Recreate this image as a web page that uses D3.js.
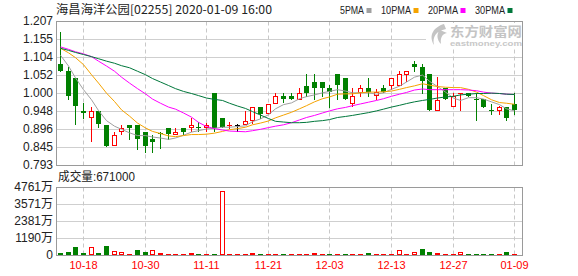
<!DOCTYPE html>
<html>
<head>
<meta charset="utf-8">
<script src="https://cdn.jsdelivr.net/npm/d3@7"></script>
<style>
    body { margin: 0; background: #fff; }
</style>
</head>
<body>
<div id="plotRegi"></div>
<script>
/* Data */
var title = "海昌海洋公园[02255] 2020-01-09 16:00"
var maNames = ["5PMA", "10PMA", "20PMA", "30PMA"]
var volLabel = "成交量:671000"

var dates = ["10-15", "10-16", "10-17", "10-18", "10-21", "10-22", "10-23", "10-24", "10-25", "10-28",
    "10-29", "10-30", "10-31", "11-01", "11-04", "11-05", "11-06", "11-07", "11-08", "11-11",
    "11-12", "11-13", "11-14", "11-15", "11-18", "11-19", "11-20", "11-21", "11-22", "11-25",
    "11-26", "11-27", "11-28", "11-29", "12-02", "12-03", "12-04", "12-05", "12-06", "12-09",
    "12-10", "12-11", "12-12", "12-13", "12-16", "12-17", "12-18", "12-19", "12-20", "12-23",
    "12-24", "12-27", "12-30", "12-31", "01-02", "01-03", "01-06", "01-07", "01-08", "01-09"]
var dateTicks = ["10-18", "10-30", "11-11", "11-21", "12-03", "12-13", "12-27", "01-09"]
var priceLabels = ["0.793", "0.845", "0.896", "0.948", "1.000", "1.052", "1.104", "1.155", "1.207"]
var volLabels = ["0", "1190万", "2381万", "3571万", "4761万"]

var open = [1.082, 1.062, 1.042, 0.949, 0.931, 0.949, 0.909, 0.850, 0.891, 0.908,
    0.909, 0.888, 0.868, 0.886, 0.900, 0.881, 0.900, 0.902, 0.902, 0.902,
    1.001, 0.929, 0.904, 0.908, 0.910, 0.922, 0.960, 0.943, 0.972, 0.990,
    0.990, 0.982, 1.021, 1.033, 1.033, 1.013, 1.054, 1.042, 0.972, 1.002,
    1.013, 0.993, 1.013, 1.024, 1.024, 1.056, 1.082, 1.074, 1.054, 0.950,
    1.013, 0.962, 0.996, 1.001, 0.983, 0.982, 0.950, 0.950, 0.961, 0.969]
var high = [1.175, 1.074, 1.042, 0.970, 0.960, 0.949, 0.909, 0.889, 0.908, 0.908,
    0.909, 0.888, 0.879, 0.888, 0.900, 0.900, 0.900, 0.927, 0.917, 0.915,
    1.001, 0.929, 0.917, 0.912, 0.948, 0.960, 0.960, 0.969, 1.001, 1.001,
    1.001, 1.013, 1.054, 1.054, 1.033, 1.023, 1.054, 1.042, 1.013, 1.023,
    1.042, 1.011, 1.023, 1.042, 1.064, 1.062, 1.093, 1.083, 1.054, 1.045,
    1.013, 1.001, 1.001, 1.001, 1.001, 0.982, 0.969, 0.962, 0.961, 1.001]
var low = [1.064, 0.982, 0.910, 0.927, 0.862, 0.902, 0.849, 0.850, 0.881, 0.869,
    0.840, 0.830, 0.831, 0.842, 0.868, 0.881, 0.881, 0.891, 0.891, 0.891,
    0.891, 0.902, 0.900, 0.891, 0.910, 0.913, 0.929, 0.943, 0.972, 0.975,
    0.982, 0.982, 0.992, 0.982, 0.992, 0.961, 0.982, 0.982, 0.963, 0.992,
    0.992, 0.982, 1.004, 1.011, 1.024, 1.035, 1.064, 1.001, 0.950, 0.950,
    0.982, 0.962, 0.950, 0.990, 0.921, 0.961, 0.941, 0.941, 0.921, 0.941]
var close = [1.064, 0.992, 0.962, 0.942, 0.949, 0.910, 0.849, 0.879, 0.899, 0.900,
    0.869, 0.849, 0.860, 0.881, 0.881, 0.888, 0.888, 0.908, 0.899, 0.907,
    0.900, 0.902, 0.907, 0.908, 0.919, 0.960, 0.941, 0.969, 0.990, 0.982,
    0.982, 1.000, 1.001, 1.013, 1.013, 1.004, 1.023, 0.982, 0.990, 1.013,
    1.002, 1.002, 1.004, 1.042, 1.054, 1.062, 1.074, 1.035, 0.950, 0.980,
    0.982, 0.990, 0.999, 0.990, 0.980, 0.961, 0.948, 0.960, 0.929, 0.950]
var volume = [1600000, 2300000, 5800000, 1600000, 5600000, 1600000, 6500000, 2800000, 2100000, 900000,
    3500000, 2100000, 3300000, 1400000, 700000, 650000, 600000, 1300000, 700000, 600000,
    750000, 44800000, 700000, 600000, 650000, 1400000, 700000, 600000, 650000, 700000,
    600000, 650000, 700000, 1350000, 650000, 700000, 750000, 700000, 650000, 600000,
    1600000, 650000, 600000, 700000, 3300000, 700000, 2100000, 4200000, 2300000, 1400000,
    650000, 600000, 2100000, 700000, 650000, 700000, 750000, 600000, 2300000, 671000]

var ma5 = [1.110, 1.079, 1.045, 1.011, 0.982, 0.951, 0.922, 0.906, 0.897, 0.887,
    0.879, 0.879, 0.875, 0.872, 0.868, 0.872, 0.880, 0.889, 0.893, 0.898,
    0.900, 0.903, 0.903, 0.905, 0.907, 0.919, 0.927, 0.939, 0.956, 0.968,
    0.973, 0.985, 0.991, 0.996, 1.002, 1.006, 1.011, 1.007, 1.002, 1.002,
    1.002, 0.998, 1.002, 1.012, 1.021, 1.033, 1.047, 1.053, 1.035, 1.020,
    1.004, 0.987, 0.980, 0.988, 0.988, 0.984, 0.976, 0.968, 0.956, 0.950]
var ma10 = [1.130, 1.117, 1.103, 1.083, 1.054, 1.030, 1.001, 0.977, 0.953, 0.935,
    0.915, 0.901, 0.891, 0.885, 0.878, 0.876, 0.879, 0.882, 0.882, 0.883,
    0.886, 0.891, 0.896, 0.899, 0.903, 0.910, 0.915, 0.921, 0.930, 0.938,
    0.946, 0.956, 0.965, 0.976, 0.985, 0.990, 0.998, 0.999, 0.999, 1.002,
    1.004, 1.004, 1.005, 1.007, 1.012, 1.017, 1.022, 1.028, 1.024, 1.020,
    1.018, 1.017, 1.017, 1.012, 1.004, 0.994, 0.982, 0.974, 0.972, 0.969]
var ma20 = [1.134, 1.127, 1.120, 1.114, 1.106, 1.093, 1.079, 1.064, 1.047, 1.030,
    1.014, 0.999, 0.984, 0.972, 0.961, 0.955, 0.944, 0.932, 0.917, 0.905,
    0.899, 0.895, 0.892, 0.891, 0.890, 0.893, 0.897, 0.902, 0.906, 0.910,
    0.916, 0.924, 0.931, 0.937, 0.944, 0.950, 0.956, 0.960, 0.965, 0.970,
    0.975, 0.980, 0.985, 0.992, 0.998, 1.003, 1.010, 1.013, 1.011, 1.011,
    1.011, 1.011, 1.011, 1.010, 1.008, 1.004, 1.001, 1.000, 0.998, 0.997]
var ma30 = [1.130, 1.124, 1.118, 1.112, 1.106, 1.100, 1.093, 1.087, 1.080, 1.074,
    1.064, 1.054, 1.043, 1.033, 1.023, 1.014, 1.006, 1.000, 0.994, 0.987,
    0.983, 0.980, 0.972, 0.964, 0.957, 0.948, 0.938, 0.928, 0.920, 0.918,
    0.916, 0.916, 0.917, 0.920, 0.922, 0.925, 0.931, 0.934, 0.937, 0.941,
    0.945, 0.950, 0.955, 0.961, 0.966, 0.971, 0.976, 0.980, 0.983, 0.987,
    0.990, 0.992, 0.996, 0.998, 1.000, 1.000, 1.001, 1.000, 0.998, 0.997]

var priceMin = 0.793, priceMax = 1.207
var volMax = 47610000


/* Settings */
var red = "#ff0000", green = "#008000"
var maColors = ["#a0a0a0", "#f5a300", "#ff00ff", "#00773b"]
var left = 56, right = 522
var pTop = 21, pBottom = 165
var vTop = 187, vBottom = 255


/* Scales */
var scale_x = d3
    .scaleBand()
    .domain(d3.range(dates.length))
    .range([left, 518])

var cx = i => Math.round(scale_x(i) + scale_x.bandwidth() / 2)

var scale_y = d3
    .scaleLinear()
    .domain([priceMin, priceMax])
    .range([pBottom, pTop])

var scale_v = d3
    .scaleLinear()
    .domain([0, volMax])
    .range([vBottom, vTop])

function candleColor(i) {
    if (close[i] > open[i]) return red
    if (close[i] < open[i]) return green
    return "#000"
}

function volColor(i) {
    if (i == 0) return candleColor(0)
    return close[i] >= close[i - 1] ? red : green
}


/* Drawing */
var svg = d3
    .select("#plotRegi")
    .append("svg")
    .attr("width", 578)
    .attr("height", 276)
    .style("font-family", "'Liberation Sans', Arial, sans-serif")

// Title & legend
svg.append("text")
    .attr("x", 56)
    .attr("y", 13.5)
    .attr("font-size", "12px")
    .attr("font-family", "'Noto Sans CJK SC', sans-serif")
    .attr("fill", "#222")
    .attr("textLength", 216)
    .attr("lengthAdjust", "spacingAndGlyphs")
    .text(title)

var lx = 340
maNames.forEach(function (name, k) {
    var w = name.length * 6
    svg.append("text")
        .attr("x", lx)
        .attr("y", 13.5)
        .attr("font-size", "11px")
        .attr("fill", "#222")
        .attr("textLength", w)
        .attr("lengthAdjust", "spacingAndGlyphs")
        .text(name)
    svg.append("rect")
        .attr("x", lx + w + 2.5)
        .attr("y", 8)
        .attr("width", 5)
        .attr("height", 5)
        .attr("fill", maColors[k])
    lx += w + 2.5 + 5 + 9.5
})

// Price grid & labels
var priceTicks = d3.range(9).map(k => priceMin + k * (priceMax - priceMin) / 8)

svg.append("g")
    .attr("id", "AxisY")
    .attr("transform", "translate(" + left + ",0)")
    .call(d3.axisLeft(scale_y)
        .tickValues(priceTicks)
        .tickSizeInner(-(right - left))
        .tickSizeOuter(0)
        .tickPadding(3)
        .tickFormat((d, k) => priceLabels[k]))
    .call(g => g.select(".domain").remove())
    .call(g => g.selectAll("line").attr("stroke", "#cfcfcf"))
    .call(g => g.selectAll("text")
        .attr("font-size", "12px")
        .attr("fill", "#222"))

// Volume grid & labels
var volTicks = d3.range(5).map(k => volMax * k / 4)

svg.append("g")
    .attr("id", "AxisV")
    .attr("transform", "translate(" + left + ",0)")
    .call(d3.axisLeft(scale_v)
        .tickValues(volTicks)
        .tickSizeInner(-(right - left))
        .tickSizeOuter(0)
        .tickPadding(3)
        .tickFormat((d, k) => volLabels[k]))
    .call(g => g.select(".domain").remove())
    .call(g => g.selectAll("line").attr("stroke", "#cfcfcf"))
    .call(g => g.selectAll("text")
        .attr("font-size", "12px")
        .attr("font-family", "'Liberation Sans', 'Noto Sans CJK SC', sans-serif")
        .attr("fill", "#222"))

// Dashed date lines & date labels
var tickIdx = dateTicks.map(d => dates.indexOf(d))

svg.append("g")
    .selectAll("NONE")
    .data(tickIdx)
    .enter()
    .append("path")
    .attr("d", i => "M" + (cx(i) + 0.5) + "," + (pTop + 0.5) + "V" + (pBottom + 0.5) +
        "M" + (cx(i) + 0.5) + "," + (vTop + 0.5) + "V" + (vBottom + 0.5))
    .attr("stroke", "#c8c8c8")
    .attr("stroke-dasharray", "4,3")

svg.append("g")
    .selectAll("NONE")
    .data(tickIdx)
    .enter()
    .append("text")
    .attr("x", i => cx(i) + 0.5)
    .attr("y", 268.5)
    .attr("text-anchor", "middle")
    .attr("font-size", "11px")
    .attr("fill", red)
    .text(i => dates[i])

// Panel borders
svg.append("rect")
    .attr("x", left + 0.5).attr("y", pTop + 0.5)
    .attr("width", right - left).attr("height", pBottom - pTop)
    .attr("fill", "none").attr("stroke", "#9a9a9a")

svg.append("rect")
    .attr("x", left + 0.5).attr("y", vTop + 0.5)
    .attr("width", right - left).attr("height", vBottom - vTop)
    .attr("fill", "none").attr("stroke", "#9a9a9a")

// Watermark
var wm = svg.append("g").attr("id", "watermark")
wm.append("rect")
    .attr("x", 426).attr("y", 23)
    .attr("width", 96).attr("height", 24)
    .attr("fill", "#fff")
wm.append("path")
    .attr("d", "M444,24 C434,27 428,35 434,45 C432,37 436,31 446,29 Z M440,30 C436,34 437,40 441,44 C440,38 442,34 447,33 Z")
    .attr("fill", "#c4c4c4")
wm.append("text")
    .attr("x", 450).attr("y", 35.5)
    .attr("font-size", "13px")
    .attr("font-weight", "bold")
    .attr("font-family", "'Noto Sans CJK SC', sans-serif")
    .attr("fill", "#c4c4c4")
    .attr("textLength", 72)
    .attr("lengthAdjust", "spacingAndGlyphs")
    .text("东方财富网")
wm.append("text")
    .attr("x", 450).attr("y", 46)
    .attr("font-size", "8px")
    .attr("font-weight", "bold")
    .attr("fill", "#c8c8c8")
    .attr("textLength", 72)
    .attr("lengthAdjust", "spacingAndGlyphs")
    .text("eastmoney.com")

// Candles
var idx = d3.range(dates.length)
var candles = svg.append("g").attr("id", "candles")

candles
    .selectAll("NONE")
    .data(idx)
    .enter()
    .append("line")
    .attr("x1", i => cx(i) + 0.5)
    .attr("x2", i => cx(i) + 0.5)
    .attr("y1", i => Math.round(scale_y(high[i])))
    .attr("y2", i => Math.round(scale_y(low[i])) + 1)
    .attr("stroke", i => candleColor(i))

candles
    .selectAll("NONE")
    .data(idx)
    .enter()
    .append("rect")
    .each(function (i) {
        var top = Math.round(scale_y(Math.max(open[i], close[i])))
        var bot = Math.round(scale_y(Math.min(open[i], close[i])))
        var x = cx(i) - 2
        if (close[i] > open[i] && bot - top >= 2) {
            d3.select(this)
                .attr("x", x + 0.5).attr("y", top + 0.5)
                .attr("width", 4).attr("height", bot - top)
                .attr("fill", "#fff").attr("stroke", red)
        } else {
            d3.select(this)
                .attr("x", x).attr("y", top)
                .attr("width", 5).attr("height", Math.max(bot - top, 1))
                .attr("fill", candleColor(i))
        }
    })

// Moving averages
var maLine = d3.line()
    .x((d, i) => cx(i) + 0.5)
    .y(d => scale_y(d) + 0.5)

var mas = [ma5, ma10, ma20, ma30]
svg.append("g")
    .selectAll("NONE")
    .data(mas)
    .enter()
    .append("path")
    .attr("d", d => maLine(d))
    .attr("fill", "none")
    .attr("stroke", (d, k) => maColors[k])
    .attr("stroke-width", 1)

// Volume bars
svg.append("g")
    .attr("id", "volume")
    .selectAll("NONE")
    .data(idx)
    .enter()
    .append("rect")
    .each(function (i) {
        var top = Math.round(scale_v(volume[i]))
        var h = Math.max(vBottom - top, 1)
        top = vBottom - h
        var x = cx(i) - 2
        if (volColor(i) == red && h >= 3) {
            d3.select(this)
                .attr("x", x + 0.5).attr("y", top + 0.5)
                .attr("width", 4).attr("height", h - 1)
                .attr("fill", "#fff").attr("stroke", red)
        } else {
            d3.select(this)
                .attr("x", x).attr("y", top)
                .attr("width", 5).attr("height", h)
                .attr("fill", volColor(i))
        }
    })

// Volume label
svg.append("text")
    .attr("x", 58)
    .attr("y", 180.5)
    .attr("font-size", "12px")
    .attr("font-family", "'Liberation Sans', 'Noto Sans CJK SC', sans-serif")
    .attr("fill", "#222")
    .attr("textLength", 77)
    .attr("lengthAdjust", "spacingAndGlyphs")
    .text(volLabel)
</script>
</body>
</html>
